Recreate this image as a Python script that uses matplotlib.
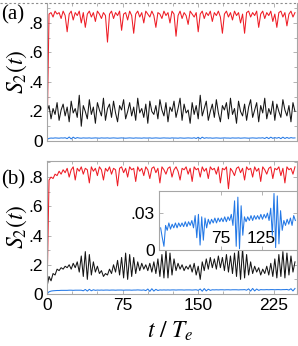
import numpy as np
import matplotlib
matplotlib.use("Agg")
import matplotlib.pyplot as plt
from matplotlib.ticker import FuncFormatter, MultipleLocator, FixedLocator
from matplotlib.lines import Line2D

# traces are sampled every T_STEP (in units of T_e)
T_STEP = 2

# panel (a)
red_a = [
    0.00, 0.86, 0.87, 0.84, 0.88, 0.86, 0.87, 0.83, 0.88, 0.85,
    0.74, 0.86, 0.88, 0.82, 0.87, 0.85, 0.88, 0.80, 0.87, 0.77,
    0.86, 0.88, 0.84, 0.87, 0.81, 0.88, 0.86, 0.83, 0.87, 0.85,
    0.67, 0.86, 0.88, 0.83, 0.87, 0.85, 0.88, 0.75, 0.86, 0.87,
    0.82, 0.88, 0.85, 0.73, 0.86, 0.88, 0.84, 0.87, 0.80, 0.88,
    0.86, 0.84, 0.88, 0.85, 0.77, 0.87, 0.86, 0.83, 0.88, 0.85,
    0.87, 0.80, 0.88, 0.86, 0.71, 0.85, 0.88, 0.83, 0.87, 0.85,
    0.79, 0.88, 0.86, 0.84, 0.87, 0.74, 0.86, 0.88, 0.83, 0.87,
    0.85, 0.88, 0.81, 0.87, 0.85, 0.88, 0.84, 0.73, 0.86, 0.88,
    0.84, 0.87, 0.82, 0.88, 0.85, 0.87, 0.80, 0.86, 0.73, 0.87,
    0.88, 0.84, 0.87, 0.85, 0.88, 0.77, 0.86, 0.88, 0.83, 0.87,
    0.85, 0.88, 0.81, 0.86, 0.77, 0.87, 0.88, 0.84, 0.87, 0.78,
    0.86, 0.88, 0.84, 0.87,
]
black_a = [
    0.20, 0.24, 0.15, 0.22, 0.18, 0.26, 0.14, 0.21, 0.25, 0.17,
    0.23, 0.13, 0.27, 0.19, 0.22, 0.16, 0.31, 0.10, 0.24, 0.20,
    0.15, 0.28, 0.18, 0.23, 0.12, 0.26, 0.21, 0.17, 0.29, 0.14,
    0.22, 0.25, 0.16, 0.27, 0.19, 0.13, 0.24, 0.21, 0.28, 0.15,
    0.20, 0.26, 0.17, 0.23, 0.14, 0.29, 0.19, 0.22, 0.16, 0.25,
    0.12, 0.27, 0.20, 0.18, 0.24, 0.15, 0.28, 0.21, 0.17, 0.26,
    0.13, 0.23, 0.20, 0.27, 0.16, 0.22, 0.29, 0.14, 0.25, 0.19,
    0.21, 0.12, 0.26, 0.18, 0.24, 0.15, 0.31, 0.17, 0.22, 0.27,
    0.14, 0.20, 0.25, 0.16, 0.28, 0.19, 0.13, 0.24, 0.21, 0.26,
    0.15, 0.29, 0.18, 0.22, 0.12, 0.27, 0.20, 0.17, 0.25, 0.14,
    0.23, 0.28, 0.16, 0.21, 0.26, 0.13, 0.24, 0.19, 0.29, 0.15,
    0.22, 0.18, 0.27, 0.14, 0.25, 0.20, 0.16, 0.28, 0.21, 0.17,
    0.24, 0.13, 0.26, 0.20,
]
blue_a = [
    0.010, 0.018, 0.020, 0.019, 0.021, 0.020, 0.019, 0.021, 0.020, 0.022,
    0.016, 0.027, 0.014, 0.026, 0.017, 0.023, 0.020, 0.019, 0.021, 0.020,
    0.020, 0.021, 0.019, 0.020, 0.021, 0.020, 0.019, 0.021, 0.020, 0.020,
    0.021, 0.019, 0.020, 0.021, 0.020, 0.019, 0.020, 0.021, 0.020, 0.019,
    0.020, 0.021, 0.020, 0.019, 0.021, 0.020, 0.020, 0.019, 0.021, 0.020,
    0.020, 0.021, 0.019, 0.020, 0.021, 0.020, 0.019, 0.020, 0.021, 0.020,
    0.020, 0.019, 0.021, 0.020, 0.020, 0.019, 0.021, 0.020, 0.019, 0.020,
    0.021, 0.020, 0.019, 0.022, 0.017, 0.025, 0.015, 0.026, 0.018, 0.022,
    0.020, 0.021, 0.019, 0.020, 0.021, 0.020, 0.019, 0.020, 0.021, 0.020,
    0.020, 0.019, 0.021, 0.020, 0.020, 0.021, 0.019, 0.020, 0.021, 0.020,
    0.019, 0.020, 0.021, 0.020, 0.019, 0.021, 0.020, 0.022, 0.017, 0.025,
    0.016, 0.026, 0.018, 0.023, 0.019, 0.024, 0.016, 0.026, 0.017, 0.024,
    0.018, 0.023, 0.020, 0.021,
]

# panel (b)
red_b = [
    0.00, 0.78, 0.80, 0.79, 0.82, 0.81, 0.84, 0.82, 0.85, 0.83,
    0.86, 0.80, 0.85, 0.87, 0.78, 0.86, 0.84, 0.87, 0.82, 0.86,
    0.85, 0.76, 0.87, 0.84, 0.86, 0.81, 0.87, 0.85, 0.78, 0.86,
    0.84, 0.87, 0.82, 0.86, 0.85, 0.74, 0.86, 0.87, 0.83, 0.86,
    0.80, 0.87, 0.85, 0.86, 0.77, 0.87, 0.84, 0.86, 0.81, 0.87,
    0.85, 0.79, 0.86, 0.87, 0.83, 0.86, 0.76, 0.87, 0.85, 0.82,
    0.86, 0.87, 0.80, 0.85, 0.87, 0.84, 0.78, 0.86, 0.85, 0.87,
    0.82, 0.86, 0.77, 0.87, 0.85, 0.86, 0.80, 0.87, 0.84, 0.86,
    0.79, 0.87, 0.85, 0.86, 0.82, 0.87, 0.76, 0.86, 0.85, 0.87,
    0.72, 0.86, 0.84, 0.81, 0.86, 0.87, 0.83, 0.86, 0.78, 0.87,
    0.85, 0.86, 0.80, 0.87, 0.84, 0.86, 0.77, 0.87, 0.85, 0.82,
    0.86, 0.87, 0.79, 0.86, 0.85, 0.87, 0.81, 0.86, 0.76, 0.87,
    0.85, 0.86, 0.82, 0.87,
]
black_b = [
    0.05, 0.12, 0.09, 0.14, 0.13, 0.17, 0.16, 0.18, 0.17, 0.19,
    0.18, 0.20, 0.17, 0.21, 0.18, 0.22, 0.15, 0.26, 0.12, 0.29,
    0.10, 0.27, 0.13, 0.22, 0.15, 0.19, 0.14, 0.16, 0.12, 0.14,
    0.13, 0.17, 0.14, 0.20, 0.15, 0.23, 0.13, 0.25, 0.11, 0.28,
    0.10, 0.27, 0.12, 0.25, 0.14, 0.22, 0.16, 0.21, 0.17, 0.20,
    0.16, 0.21, 0.15, 0.22, 0.14, 0.24, 0.12, 0.27, 0.11, 0.30,
    0.11, 0.28, 0.13, 0.24, 0.16, 0.21, 0.17, 0.20, 0.16, 0.19,
    0.17, 0.20, 0.15, 0.21, 0.13, 0.19, 0.10, 0.22, 0.16, 0.24,
    0.17, 0.25, 0.18, 0.24, 0.17, 0.26, 0.18, 0.25, 0.16, 0.27,
    0.15, 0.26, 0.14, 0.28, 0.12, 0.30, 0.10, 0.31, 0.11, 0.27,
    0.13, 0.22, 0.14, 0.19, 0.15, 0.18, 0.13, 0.17, 0.14, 0.19,
    0.13, 0.21, 0.12, 0.24, 0.11, 0.27, 0.12, 0.29, 0.11, 0.28,
    0.13, 0.26, 0.15, 0.22,
]
blue_b = [
    0.000, 0.015, 0.020, 0.022, 0.023, 0.024, 0.024, 0.025, 0.025, 0.025,
    0.025, 0.026, 0.026, 0.025, 0.026, 0.026, 0.026, 0.026, 0.022, 0.031,
    0.020, 0.032, 0.022, 0.029, 0.025, 0.027, 0.026, 0.027, 0.026, 0.027,
    0.027, 0.026, 0.027, 0.027, 0.026, 0.027, 0.027, 0.027, 0.026, 0.027,
    0.027, 0.027, 0.026, 0.027, 0.027, 0.028, 0.027, 0.026, 0.028, 0.023,
    0.034, 0.018, 0.036, 0.020, 0.032, 0.024, 0.028, 0.027, 0.028, 0.027,
    0.028, 0.027, 0.028, 0.028, 0.027, 0.028, 0.028, 0.028, 0.027, 0.028,
    0.028, 0.028, 0.027, 0.028, 0.029, 0.025, 0.034, 0.019, 0.037, 0.021,
    0.033, 0.025, 0.029, 0.028, 0.029, 0.028, 0.029, 0.029, 0.028, 0.029,
    0.029, 0.028, 0.029, 0.029, 0.029, 0.028, 0.029, 0.029, 0.030, 0.026,
    0.035, 0.020, 0.038, 0.021, 0.034, 0.025, 0.030, 0.029, 0.029, 0.030,
    0.029, 0.030, 0.030, 0.029, 0.030, 0.030, 0.029, 0.030, 0.030, 0.031,
    0.027, 0.036, 0.021, 0.038,
]

# inset of (b): zoom on the blue trace
inset_t0 = 2
blue_inset = [
    0.018, 0.010, 0.003, 0.020, 0.016, 0.022, 0.017, 0.021, 0.018, 0.022,
    0.018, 0.022, 0.019, 0.022, 0.019, 0.023, 0.019, 0.023, 0.020, 0.024,
    0.018, 0.028, 0.010, 0.029, 0.004, 0.027, 0.008, 0.026, 0.018, 0.025,
    0.021, 0.025, 0.022, 0.026, 0.022, 0.026, 0.023, 0.026, 0.023, 0.027,
    0.023, 0.027, 0.024, 0.029, 0.020, 0.040, 0.003, 0.043, 0.001, 0.036,
    0.012, 0.027, 0.023, 0.027, 0.024, 0.028, 0.024, 0.028, 0.025, 0.028,
    0.025, 0.029, 0.025, 0.029, 0.026, 0.030, 0.024, 0.034, 0.012, 0.046,
    0.002, 0.044, 0.005, 0.032, 0.016, 0.024, 0.020, 0.025, 0.021, 0.026,
    0.020, 0.028, 0.024,
]

RED = '#ee1c25'
BLACK = '#151515'
BLUE = '#2378e6'
FRAME = '#a6a6a6'

plt.rcParams['font.family'] = ['Liberation Sans', 'DejaVu Sans']
plt.rcParams['mathtext.fontset'] = 'stix'

W, H = 298, 346
fig = plt.figure(figsize=(W / 100, H / 100), dpi=100)


def box(left, top, right, bottom):
    return [left / W, 1 - bottom / H, (right - left) / W, (bottom - top) / H]


def frac_fmt(v, pos):
    if abs(v) < 1e-9:
        return '0'
    return ('%g' % v).lstrip('0')


def style(ax):
    for s in ax.spines.values():
        s.set_color(FRAME)
        s.set_linewidth(0.8)
    ax.tick_params(which='both', direction='in', top=True, right=True,
                   color=FRAME, width=0.6, labelsize=12.5, pad=3)
    ax.tick_params(which='major', length=3)
    ax.tick_params(which='minor', length=2)


ax_a = fig.add_axes(box(47, 3, 297, 141))
ax_b = fig.add_axes(box(47, 161, 297, 294))

for ax, series, top in [(ax_a, (red_a, black_a, blue_a), 0.935),
                        (ax_b, (red_b, black_b, blue_b), 0.91)]:
    for vals, col in zip(series, (RED, BLACK, BLUE)):
        t = np.arange(len(vals)) * T_STEP
        ax.plot(t, vals, color=col, lw=0.75)
    ax.set_xlim(0, 248)
    ax.set_ylim(0, top)
    ax.xaxis.set_major_locator(FixedLocator([0, 75, 150, 225]))
    ax.xaxis.set_minor_locator(MultipleLocator(25))
    ax.yaxis.set_major_locator(MultipleLocator(0.2))
    ax.yaxis.set_minor_locator(MultipleLocator(0.1))
    ax.yaxis.set_major_formatter(FuncFormatter(frac_fmt))
    style(ax)

ax_a.tick_params(labelbottom=False)
ax_a.spines['top'].set_visible(False)

ins = fig.add_axes(box(159, 191, 297, 250))
t_in = inset_t0 + np.arange(len(blue_inset)) * T_STEP
ins.plot(t_in, blue_inset, color=BLUE, lw=0.75)
ins.set_xlim(0, 168)
ins.set_ylim(0, 0.048)
ins.xaxis.set_major_locator(FixedLocator([75, 125]))
ins.yaxis.set_major_locator(FixedLocator([0, 0.03]))
ins.yaxis.set_major_formatter(FuncFormatter(frac_fmt))
style(ins)
ins.tick_params(axis='x', pad=-14)

# dashed crop line along the top
fig.add_artist(Line2D([0, 1], [1 - 2.5 / H] * 2, transform=fig.transFigure,
                      color='#8c8c8c', lw=0.8, ls=(0, (2, 2))))

fig.text(1 / W, 1 - 15 / H, '(a)', family='Liberation Serif', fontsize=15,
         ha='left', va='center')
fig.text(1 / W, 1 - 180 / H, '(b)', family='Liberation Serif', fontsize=15,
         ha='left', va='center')
for yc in (72, 227):
    fig.text(17 / W, 1 - yc / H, r'$S_2(t)$', fontsize=17, rotation=90,
             ha='center', va='center')
fig.text(170 / W, 1 - 331 / H, r'$t\ /\ T_e$', fontsize=17,
         ha='center', va='center')

fig.savefig('out.png', dpi=100)
